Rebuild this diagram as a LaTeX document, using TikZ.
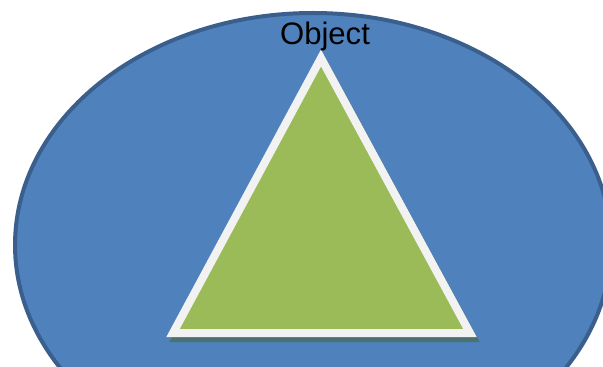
\documentclass[tikz,border=0pt]{standalone}
\usepackage{fontspec}
\setmainfont{Liberation Sans}
\usetikzlibrary{calc}
\definecolor{ovalblue}{HTML}{4F81BD}
\definecolor{ovalline}{HTML}{3A5F8C}
\definecolor{trigreen}{HTML}{9BBB59}
\definecolor{triline}{HTML}{F2F2F2}
\definecolor{trishadow}{HTML}{4B7272}

\begin{document}
\begin{tikzpicture}[x=0.75pt,y=-0.75pt,
  oval/.style={fill=ovalblue,draw=ovalline,line width=3pt},
  tri/.style={fill=trigreen,draw=triline,line width=6pt,line join=miter},
  trishade/.style={fill=trishadow,draw=trishadow,line width=6pt,line join=miter},
  lab/.style={font=\fontsize{23.3}{28}\selectfont,inner sep=0pt,anchor=base}]

\useasboundingbox (0,0) rectangle (603,367);
\clip (0,0) rectangle (603,367);

% object outline
\draw[oval] (313,245) ellipse [x radius=298,y radius=232];

% triangle corners
\coordinate (top) at (321,58);
\coordinate (left) at (173,333);
\coordinate (right) at (470,333);

\draw[trishade] ($(top)+(3,5)$) -- ($(left)+(3,5)$) -- ($(right)+(3,5)$) -- cycle;
\draw[tri] (top) -- (left) -- (right) -- cycle;

\node[lab] (objlab) at (325,45) {Object};
\end{tikzpicture}
\end{document}
